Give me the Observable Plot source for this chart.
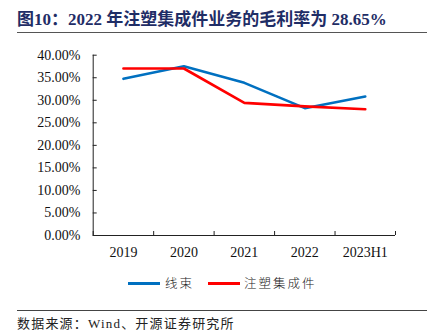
<!DOCTYPE html>
<html>
<head>
<meta charset="utf-8">
<script src="https://cdn.jsdelivr.net/npm/d3@7"></script>
<script src="https://cdn.jsdelivr.net/npm/@observablehq/plot@0.6"></script>
<style>
  html, body { margin: 0; padding: 0; background: #fff; }
  #wrap { position: relative; width: 432px; height: 335px; overflow: hidden; background: #fff; }
  #title { position: absolute; left: 17px; top: 9px; font-family: "Liberation Serif", "Noto Sans CJK SC", serif; font-weight: bold; font-size: 17px; color: #1F2D66; white-space: nowrap; line-height: 22px; }
  #tline { position: absolute; left: 17px; width: 410px; top: 31.5px; height: 0; border-top: 1.5px solid #555; }
  #chart { position: absolute; left: 0; top: 40px; }
  #legend { position: absolute; left: 0; top: 274px; width: 432px; height: 18px; font-family: "Noto Sans CJK SC", sans-serif; font-size: 12.5px; letter-spacing: 2px; color: #222; }
  .sw { position: absolute; top: 7.5px; height: 3px; width: 32px; }
  .lt { position: absolute; top: 0; line-height: 18px; white-space: nowrap; font-weight: 300; }
  #fline { position: absolute; left: 17px; width: 410px; top: 309.5px; height: 0; border-top: 1px solid #444; }
  #source { position: absolute; left: 17px; top: 315px; font-family: "Liberation Serif", "Noto Sans CJK SC", serif; font-size: 13px; letter-spacing: 1.2px; color: #222; white-space: nowrap; line-height: 18px; }
</style>
</head>
<body>
<div id="wrap">
  <div id="title"></div>
  <div id="tline"></div>
  <div id="chart"></div>
  <div id="legend"></div>
  <div id="fline"></div>
  <div id="source"></div>
</div>
<script>
const titleText = "图10：2022 年注塑集成件业务的毛利率为 28.65%";
const sourceText = "数据来源：Wind、开源证券研究所";
const categories = ["2019", "2020", "2021", "2022", "2023H1"];
const seriesNames = ["线束", "注塑集成件"];
const seriesColors = ["#0070C0", "#FF0000"];
const harness = [0.3476, 0.3756, 0.3387, 0.2825, 0.3083];
const injection = [0.3705, 0.3705, 0.2943, 0.2865, 0.2802];
const yTicks = [0, 0.05, 0.10, 0.15, 0.20, 0.25, 0.30, 0.35, 0.40];

document.getElementById("title").textContent = titleText;
document.getElementById("source").textContent = sourceText;

const rows = [];
[harness, injection].forEach((vals, s) => {
  vals.forEach((v, i) => rows.push({series: seriesNames[s], i, v}));
});
const centers = categories.map((_, i) => i);
const bounds = categories.map((_, i) => i - 0.5).concat([categories.length - 0.5]);

const chart = Plot.plot({
  width: 432,
  height: 225,
  marginTop: 14.7,
  marginBottom: 30,
  marginLeft: 92.7,
  marginRight: 37,
  style: {fontFamily: "'Liberation Serif', serif", fontSize: "14px", color: "#111", background: "transparent"},
  x: {type: "linear", domain: [-0.5, categories.length - 0.5]},
  y: {domain: [0, 0.4]},
  color: {domain: seriesNames, range: seriesColors},
  marks: [
    Plot.axisY({ticks: yTicks, tickSize: 0, tickPadding: 12.7, tickFormat: d => (d * 100).toFixed(2) + "%", label: null}),
    Plot.axisY({ticks: yTicks, tickSize: -4, tickFormat: () => "", label: null, stroke: "#222"}),
    Plot.axisX({ticks: centers, tickSize: 0, tickPadding: 12, tickFormat: i => categories[i], label: null}),
    Plot.axisX({ticks: bounds, tickSize: -4, tickFormat: () => "", label: null, stroke: "#222"}),
    Plot.ruleX([-0.5], {stroke: "#222"}),
    Plot.ruleY([0], {stroke: "#222"}),
    Plot.line(rows, {x: "i", y: "v", stroke: "series", z: "series", strokeWidth: 2.6})
  ]
});
document.getElementById("chart").appendChild(chart);

const legend = document.getElementById("legend");
const swX = [128, 207.7];
const txX = [165, 244];
seriesNames.forEach((name, k) => {
  const sw = document.createElement("div");
  sw.className = "sw";
  sw.style.left = swX[k] + "px";
  sw.style.background = seriesColors[k];
  legend.appendChild(sw);
  const t = document.createElement("div");
  t.className = "lt";
  t.style.left = txX[k] + "px";
  t.textContent = name;
  legend.appendChild(t);
});
</script>
</body>
</html>
